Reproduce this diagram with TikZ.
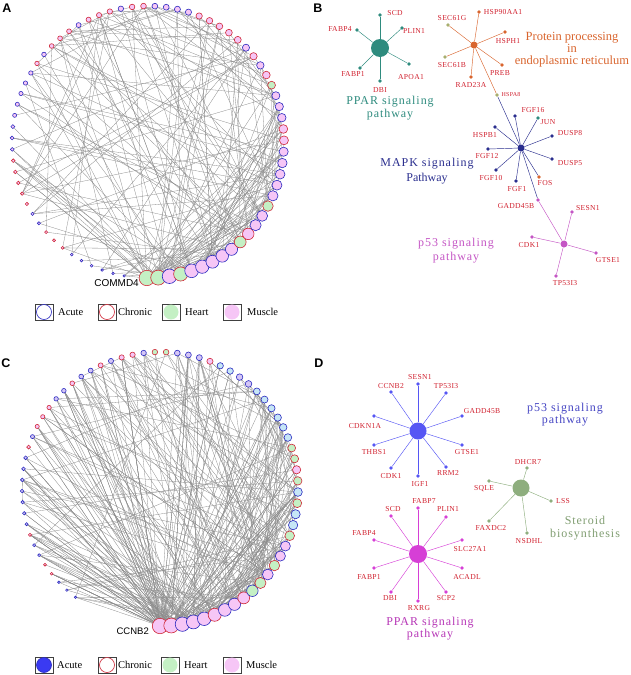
\documentclass[tikz,border=0pt]{standalone}
\usepackage{fontspec}
\setmainfont{Liberation Serif}
\setsansfont{Liberation Sans}
\newfontfamily\spacedfont[LetterSpace=8]{Liberation Serif}
\newfontfamily\genefont[LetterSpace=4]{Liberation Serif}
\usetikzlibrary{backgrounds}

\definecolor{acuteblue}{HTML}{2B2BC0}
\definecolor{chronicred}{HTML}{D02838}
\definecolor{heartgreen}{HTML}{C4F0C4}
\definecolor{musclepink}{HTML}{F6C6F6}
\definecolor{acutecyan}{HTML}{C6E6F6}
\definecolor{acuteviolet}{HTML}{D4C6F6}
\definecolor{acutefill}{HTML}{3A3AF2}
\definecolor{linkgray}{HTML}{8C8C8C}
\definecolor{genered}{HTML}{D0202E}
\definecolor{tealB}{HTML}{2E8B7E}
\definecolor{orangeB}{HTML}{D9652E}
\definecolor{khakiB}{HTML}{A8AE6E}
\definecolor{navyB}{HTML}{2A2E8E}
\definecolor{magentaB}{HTML}{C455C4}
\definecolor{blueD}{HTML}{5656F4}
\definecolor{sageD}{HTML}{8EAE7E}
\definecolor{magentaD}{HTML}{D63FD6}

\tikzset{
  ring/.style={circle, inner sep=0pt, line width=0.6pt},
  acmu/.style={draw=acuteblue, fill=musclepink},
  acht/.style={draw=acuteblue, fill=heartgreen},
  accy/.style={draw=acuteblue, fill=acutecyan},
  acvi/.style={draw=acuteblue, fill=acuteviolet},
  chmu/.style={draw=chronicred, fill=musclepink},
  chht/.style={draw=chronicred, fill=heartgreen},
  link/.style={draw=linkgray, line width=0.3pt},
  hub/.style={circle, inner sep=0pt, draw=none},
  leaf/.style={circle, inner sep=0pt, minimum size=3.6pt, draw=none},
  spoke/.style={line width=0.45pt},
  gene/.style={font=\genefont\fontsize{7.6}{8}\selectfont, text=genered, inner sep=0pt},
  pathlbl/.style={align=center, inner sep=0pt, font=\spacedfont\fontsize{12}{#1}\selectfont},
  panel/.style={font=\sffamily\bfseries\fontsize{12.5}{13}\selectfont, inner sep=0pt},
  legbox/.style={draw=black!75, line width=0.6pt, minimum width=18pt, minimum height=16pt, inner sep=0pt},
  legtxt/.style={font=\fontsize{10.5}{11}\selectfont, inner sep=0pt, anchor=west},
  hubname/.style={font=\sffamily\fontsize{10}{10}\selectfont, inner sep=0pt, anchor=east}
}

\begin{document}
\begin{tikzpicture}[x=1pt, y=-1pt]
\useasboundingbox (0,0) rectangle (630,675);

% panel letters
\node[panel] (pA) at (7,8) {A};
\node[panel] (pB) at (318,8) {B};
\node[panel] (pC) at (6,363) {C};
\node[panel] (pD) at (319,363) {D};

% A: circular network
\foreach \c [count=\i] in {chht,chht,acmu,chht,acmu,acmu,acmu,acmu,acmu,chht,
  chmu,acmu,acmu,chht,acmu,acmu,acmu,acmu,acmu,chmu,
  chmu,acmu,acmu,acmu,chht,chmu,acmu,chmu,acmu,chmu,
  chmu,chmu,chmu,chmu,acmu,acmu,acmu,acmu,chmu,chmu,
  acmu,chmu,chmu,chmu,acmu,chmu,chmu,chmu,acmu,chmu,
  acmu,acmu,acmu,acmu,acmu,acmu,acmu,acmu,chmu,chmu,
  chmu,chmu,chmu,acmu,acmu,chmu,chmu,chmu,acmu,acmu,
  acmu,acmu,acmu,acmu} {
  \pgfmathsetmacro\ang{-90.5+(\i-1)*4.8}
  \pgfmathsetmacro\frac{1-(\i-1)/73}
  \pgfmathsetmacro\dia{2*(1.2+3*\frac+3.5*\frac^4)}
  \node[ring, \c, minimum size=\dia pt] (a\i) at ({148+136*cos(\ang)},{142-136*sin(\ang)}) {};
}
\begin{pgfonlayer}{background}
  \pgfmathsetseed{11}
  \foreach \k in {1,...,200} {
    \pgfmathtruncatemacro\src{min(74,1+74*rnd*rnd)}
    \pgfmathtruncatemacro\dst{min(74,1+74*rnd)}
    \draw[link] (a\src.center) -- (a\dst.center);
  }
\end{pgfonlayer}
\node[hubname] (commd) at (139,283) {COMMD4};

% A: legend
\node[legbox] (la1) at (44,312) {};
\node[ring, draw=acuteblue, fill=white, minimum size=15pt] (la1c) at (la1) {};
\node[legtxt] (la1t) at (58,312) {Acute};
\node[legbox] (la2) at (107,312) {};
\node[ring, draw=chronicred, fill=white, minimum size=15pt] (la2c) at (la2) {};
\node[legtxt] (la2t) at (118,312) {Chronic};
\node[legbox] (la3) at (171,312) {};
\node[ring, fill=heartgreen, minimum size=15pt] (la3c) at (la3) {};
\node[legtxt] (la3t) at (185,312) {Heart};
\node[legbox] (la4) at (232,312) {};
\node[ring, fill=musclepink, minimum size=15pt] (la4c) at (la4) {};
\node[legtxt] (la4t) at (247,312) {Muscle};

% B: pathway stars
\node[hub, fill=tealB, minimum size=18pt] (bppar) at (380,48) {};
\foreach \n/\x/\y/\lx/\ly/\g in {scd/380/15/395/13/SCD, fabp4/357/30/340/29/FABP4,
  plin1/402/28/414/31/PLIN1, fabp1/360/68/353/74/FABP1,
  apoa1/409/64/411/77/APOA1, dbi/380/81/380/90/DBI} {
  \node[leaf, fill=tealB] (b\n) at (\x,\y) {};
  \node[gene] (b\n-t) at (\lx,\ly) {\g};
  \draw[spoke, tealB] (bppar) -- (b\n);
}
\node[pathlbl=13, text=tealB] (bppar-t) at (390,108) {PPAR signaling\\pathway};

\node[hub, fill=orangeB, minimum size=7pt] (bprot) at (474,45) {};
\foreach \n/\x/\y/\lx/\ly/\g/\col in {sec61g/448/25/452/18/SEC61G/khakiB,
  hsp90/479/12/503/12/HSP90AA1/orangeB, hsph1/505/32/508/41/HSPH1/orangeB,
  sec61b/445/57/452/65/SEC61B/khakiB, preb/502/65/500/73/PREB/orangeB,
  rad23a/471/77/471/85/RAD23A/orangeB} {
  \node[leaf, fill=\col] (b\n) at (\x,\y) {};
  \node[gene] (b\n-t) at (\lx,\ly) {\g};
  \draw[spoke, orangeB] (bprot) -- (b\n);
}
\node[pathlbl=12, text=orangeB, font=\fontsize{12.5}{12}\selectfont] (bprot-t) at (572,50)
  {Protein processing\\in\\endoplasmic reticulum};

\node[leaf, fill=khakiB] (bhspa8) at (497,95) {};
\node[gene, font=\genefont\fontsize{6}{6}\selectfont] (bhspa8-t) at (511,95) {HSPA8};

\node[hub, fill=navyB, minimum size=7pt] (bmapk) at (521,148) {};
\foreach \n/\x/\y/\lx/\ly/\g/\col in {fgf16/515/116/533/110/FGF16/navyB,
  jun/538/118/548/122/JUN/tealB, dusp8/552/136/570/133/DUSP8/navyB,
  hspb1/495/127/485/135/HSPB1/navyB, fgf12/488/149/487/156/FGF12/navyB,
  dusp5/552/159/570/163/DUSP5/navyB, fgf10/496/170/491/178/FGF10/navyB,
  fgf1/516/181/517/189/FGF1/navyB, fos/539/177/545/183/FOS/orangeB,
  gadd/538/200/516/206/GADD45B/magentaB} {
  \node[leaf, fill=\col] (b\n) at (\x,\y) {};
  \node[gene] (b\n-t) at (\lx,\ly) {\g};
  \draw[spoke, navyB] (bmapk) -- (b\n);
}
\draw[spoke, orangeB] (bprot) -- (bhspa8);
\draw[spoke, navyB] (bhspa8) -- (bmapk);
\node[pathlbl=15, text=navyB] (bmapk-t) at (427,171) {MAPK signaling\\{\rmfamily Pathway}};

\node[hub, fill=magentaB, minimum size=7pt] (bp53) at (564,244) {};
\foreach \n/\x/\y/\lx/\ly/\g in {sesn1/572/212/588/208/SESN1, cdk1/532/237/529/245/CDK1,
  gtse1/596/253/608/260/GTSE1, tp53i3/556/276/565/283/TP53I3} {
  \node[leaf, fill=magentaB] (b\n) at (\x,\y) {};
  \node[gene] (b\n-t) at (\lx,\ly) {\g};
  \draw[spoke, magentaB] (bp53) -- (b\n);
}
\draw[spoke, magentaB] (bgadd) -- (bp53);
\node[pathlbl=14, text=magentaB] (bp53-t) at (456,251) {p53 signaling\\pathway};

% C: circular network
\foreach \c [count=\i] in {chmu,chmu,acmu,acmu,acmu,chmu,acmu,acmu,chmu,acht,
  chht,acmu,chht,acmu,acmu,chht,accy,accy,chht,accy,
  chht,chmu,chht,chht,accy,accy,accy,accy,accy,accy,
  acvi,acvi,accy,accy,chmu,acvi,acvi,acvi,chht,chht,
  acvi,chmu,chmu,acvi,chmu,acvi,acvi,chmu,acvi,acvi,
  chmu,chmu,chmu,acvi,chmu,acvi,acvi,acvi,acvi,acvi,
  acvi,acvi,chmu,acvi,acvi,chmu,chmu,acvi,acvi,acvi} {
  \pgfmathsetmacro\ang{-90+(\i-1)*4.67}
  \pgfmathsetmacro\frac{1-(\i-1)/69}
  \pgfmathsetmacro\dia{2*(1.2+3.5*\frac+3*\frac^5)}
  \node[ring, \c, minimum size=\dia pt] (c\i) at ({160+138*cos(\ang)},{489-137*sin(\ang)}) {};
}
\begin{pgfonlayer}{background}
  \pgfmathsetseed{23}
  \foreach \k in {1,...,330} {
    \pgfmathtruncatemacro\src{min(70,1+70*rnd*rnd*rnd)}
    \pgfmathtruncatemacro\dst{min(70,1+70*rnd)}
    \draw[link] (c\src.center) -- (c\dst.center);
  }
\end{pgfonlayer}
\node[hubname, font=\sffamily\fontsize{9.5}{10}\selectfont] (ccnb) at (149,631) {CCNB2};

% C: legend
\node[legbox] (lc1) at (44,665) {};
\node[ring, draw=acuteblue, fill=acutefill, minimum size=15pt] (lc1c) at (lc1) {};
\node[legtxt] (lc1t) at (57,665) {Acute};
\node[legbox] (lc2) at (107,665) {};
\node[ring, draw=chronicred, fill=white, minimum size=15pt] (lc2c) at (lc2) {};
\node[legtxt] (lc2t) at (118,665) {Chronic};
\node[legbox] (lc3) at (170,665) {};
\node[ring, fill=heartgreen, minimum size=15pt] (lc3c) at (lc3) {};
\node[legtxt] (lc3t) at (184,665) {Heart};
\node[legbox] (lc4) at (232,665) {};
\node[ring, fill=musclepink, minimum size=15pt] (lc4c) at (lc4) {};
\node[legtxt] (lc4t) at (246,665) {Muscle};

% D: pathway stars
\node[hub, fill=blueD, minimum size=17pt] (dp53) at (418,431) {};
\foreach \n/\x/\y/\lx/\ly/\g in {sesn1/418/384/420/377/SESN1, tp53i3/446/393/446/386/TP53I3,
  ccnb2/391/392/391/386/CCNB2, gadd45b/462/416/482/411/GADD45B,
  cdkn1a/374/416/365/426/CDKN1A, gtse1/462/445/467/452/GTSE1,
  thbs1/374/445/374/452/THBS1, rrm2/446/467/448/473/RRM2,
  cdk1/391/468/391/476/CDK1, igf1/418/476/420/484/IGF1} {
  \node[leaf, fill=blueD] (d\n) at (\x,\y) {};
  \node[gene] (d\n-t) at (\lx,\ly) {\g};
  \draw[spoke, blueD] (dp53) -- (d\n);
}
\node[pathlbl=12, text=blueD!80!black] (dp53-t) at (565,415) {p53 signaling\\pathway};

\node[hub, fill=sageD, minimum size=17pt] (dster) at (521,488) {};
\foreach \n/\x/\y/\lx/\ly/\g in {dhcr7/527/468/528/462/DHCR7, sqle/489/481/484/489/SQLE,
  lss/551/501/563/501/LSS, faxdc2/489/521/491/528/FAXDC2,
  nsdhl/527/533/529/541/NSDHL} {
  \node[leaf, fill=sageD] (d\n) at (\x,\y) {};
  \node[gene] (d\n-t) at (\lx,\ly) {\g};
  \draw[spoke, sageD] (dster) -- (d\n);
}
\node[pathlbl=13, text=sageD!90!black] (dster-t) at (585,528) {Steroid\\biosynthesis};

\node[hub, fill=magentaD, minimum size=18pt] (dppar) at (418,554) {};
\foreach \n/\x/\y/\lx/\ly/\g in {fabp7/418/508/424/501/FABP7, scd/391/516/393/509/SCD,
  plin1/446/517/448/509/PLIN1, fabp4/374/540/364/533/FABP4,
  slc27a1/462/540/470/549/SLC27A1, fabp1/374/568/369/577/FABP1,
  acadl/462/568/467/577/ACADL, dbi/391/592/390/598/DBI,
  scp2/446/592/446/598/SCP2, rxrg/418/601/419/608/RXRG} {
  \node[leaf, fill=magentaD] (d\n) at (\x,\y) {};
  \node[gene] (d\n-t) at (\lx,\ly) {\g};
  \draw[spoke, magentaD] (dppar) -- (d\n);
}
\node[pathlbl=12, text=magentaD!85!black] (dppar-t) at (430,629) {PPAR signaling\\pathway};

\end{tikzpicture}
\end{document}
